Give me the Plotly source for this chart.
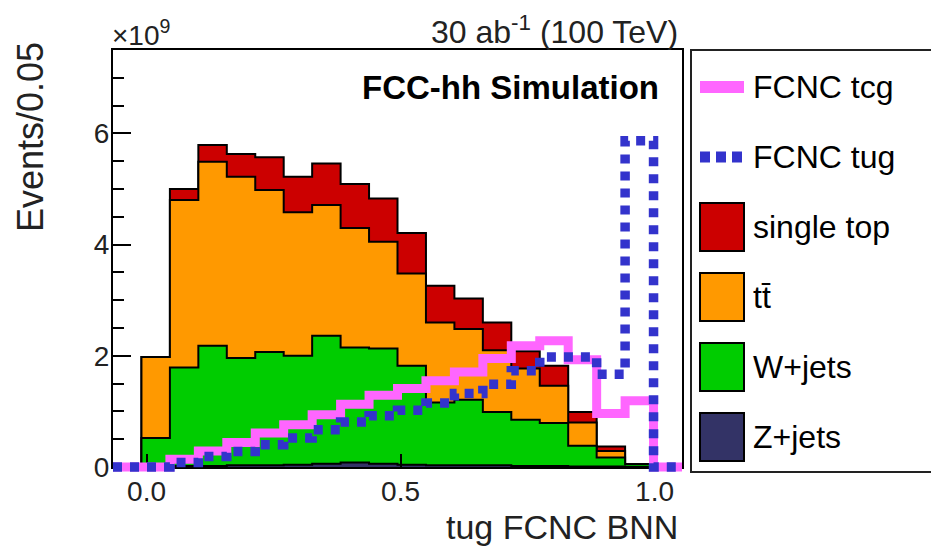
import numpy as np
import plotly.graph_objects as go

# ---------------- data (values in units of 1e9 events per bin) ----------------
bin_lo, bin_hi, n_bins = -0.066, 1.054, 20
z_jets     = [0, 0.00, 0.02, 0.02, 0.03, 0.03, 0.04, 0.06, 0.08, 0.06,
              0.04, 0.03, 0.03, 0.03, 0.02, 0.02, 0.01, 0.01, 0.00, 0]
w_jets     = [0, 0.52, 1.77, 2.16, 1.93, 2.04, 1.96, 2.30, 2.07, 2.07,
              1.78, 1.13, 1.18, 0.96, 0.83, 0.77, 0.37, 0.16, 0.05, 0]
ttbar      = [0, 1.46, 3.01, 3.31, 3.26, 2.91, 2.58, 2.35, 2.15, 1.92,
              1.66, 1.44, 1.27, 1.11, 0.92, 0.67, 0.42, 0.12, 0.00, 0]
single_top = [0, 0.00, 0.20, 0.30, 0.41, 0.59, 0.64, 0.75, 0.79, 0.78,
              0.73, 0.66, 0.55, 0.50, 0.31, 0.36, 0.19, 0.08, 0.00, 0]
fcnc_tcg   = [0, 0.00, 0.14, 0.29, 0.44, 0.61, 0.76, 0.94, 1.13, 1.29,
              1.41, 1.55, 1.71, 1.95, 2.18, 2.27, 1.93, 0.96, 1.19, 0]
fcnc_tug   = [0, 0.00, 0.08, 0.19, 0.28, 0.40, 0.52, 0.67, 0.81, 0.92,
              1.02, 1.15, 1.32, 1.49, 1.73, 1.98, 1.98, 1.67, 5.87, 0]

x_tickvals = [0.0, 0.5, 1.0]
x_ticktext = ["0.0", "0.5", "1.0"]
y_tickvals = [0, 2, 4, 6]
y_ticktext = ["0", "2", "4", "6"]
y_max = 7.5

legend_labels = ["FCNC tcg", "FCNC tug", "single top", "t" + "t\u0304", "W+jets", "Z+jets"]

# ---------------- styling ----------------
C_ST, C_TT, C_W, C_Z = "#CC0000", "#FF9900", "#00CC00", "#333366"
C_TCG, C_TUG = "#FF66FF", "#3333CC"
FONT = "Liberation Sans, Arial, sans-serif"

edges = np.linspace(bin_lo, bin_hi, n_bins + 1)


def step(vals):
    x = [edges[0]] + list(edges[:-1]) + [edges[-1]]
    y = [0] + list(vals) + [0]
    return x, y


z = np.array(z_jets)
cw = z + np.array(w_jets)
ct = cw + np.array(ttbar)
cs = ct + np.array(single_top)

fig = go.Figure()
for vals, col in [(cs, C_ST), (ct, C_TT), (cw, C_W), (z, C_Z)]:
    x, y = step(vals)
    fig.add_trace(go.Scatter(x=x, y=y, mode="lines", line=dict(shape="hv", color="black", width=2),
                             fill="tozeroy", fillcolor=col, showlegend=False, hoverinfo="skip",
                             xaxis="x", yaxis="y"))

# signal curves on a twin subplot whose clip area extends a little below the baseline
x, y = step(fcnc_tcg)
fig.add_trace(go.Scatter(x=x, y=y, mode="lines", line=dict(shape="hv", color=C_TCG, width=9),
                         showlegend=False, hoverinfo="skip", xaxis="x2", yaxis="y2"))
x, y = step(fcnc_tug)
fig.add_trace(go.Scatter(x=x, y=y, mode="lines", line=dict(shape="hv", color=C_TUG, width=9.5, dash="9px,8px"),
                         showlegend=False, hoverinfo="skip", xaxis="x2", yaxis="y2"))

# pixel geometry
L, R, T, B0 = 113, 682, 50, 467      # frame
EXT = 8                               # extra clip room below baseline
B = B0 + EXT                          # plotting-area bottom
W_PX, H_PX = R - L, B - T
dom0 = EXT / H_PX
y2_lo = -EXT * y_max / (B0 - T)


def px(xp):
    return (xp - L) / W_PX


def py(yp):
    return (B - yp) / H_PX


shapes = []
annotations = []
# legend box
shapes.append(dict(type="rect", xref="paper", yref="paper", x0=px(691), x1=px(980), y0=py(472), y1=py(50),
                   line=dict(color="#222222", width=2), fillcolor="white", layer="below"))
entry_y = [87, 157, 227, 297, 367, 437]
sym_x0, sym_x1 = 700, 744
shapes.append(dict(type="line", xref="paper", yref="paper", x0=px(sym_x0), x1=px(sym_x1),
                   y0=py(entry_y[0]), y1=py(entry_y[0]), line=dict(color=C_TCG, width=12)))
shapes.append(dict(type="line", xref="paper", yref="paper", x0=px(sym_x0), x1=px(sym_x1),
                   y0=py(entry_y[1]), y1=py(entry_y[1]), line=dict(color=C_TUG, width=11, dash="10px,6px")))
for yc, col in zip(entry_y[2:], [C_ST, C_TT, C_W, C_Z]):
    shapes.append(dict(type="rect", xref="paper", yref="paper", x0=px(sym_x0), x1=px(sym_x1),
                       y0=py(yc + 24), y1=py(yc - 24), line=dict(color="black", width=2), fillcolor=col))
for yc, lab in zip(entry_y, legend_labels):
    annotations.append(dict(xref="paper", yref="paper", x=px(751), y=py(yc), xanchor="left", yanchor="middle",
                            text=lab, showarrow=False, font=dict(family=FONT, size=32, color="black")))

annotations += [
    dict(xref="paper", yref="paper", x=px(661), y=py(87), xanchor="right", yanchor="middle",
         text="<b>FCC-hh Simulation</b>", showarrow=False, font=dict(family=FONT, size=33, color="black")),
    dict(xref="paper", yref="paper", x=px(110), y=py(33), xanchor="left", yanchor="middle",
         text="\u00d710<sup>9</sup>", showarrow=False, font=dict(family=FONT, size=28, color="#222")),
    dict(xref="paper", yref="paper", x=px(680), y=py(30), xanchor="right", yanchor="middle",
         text="30 ab<sup>-1</sup> (100 TeV)", showarrow=False, font=dict(family=FONT, size=32, color="#222")),
    dict(xref="paper", yref="paper", x=px(680), y=py(527), xanchor="right", yanchor="middle",
         text="tug FCNC BNN", showarrow=False, font=dict(family=FONT, size=34, color="#222")),
    dict(xref="paper", yref="paper", x=px(30), y=py(137), xanchor="center", yanchor="middle", textangle=-90,
         text="Events/0.05", showarrow=False, font=dict(family=FONT, size=36, color="#222")),
]

fig.update_layout(
    width=931, height=546, margin=dict(l=L, r=931 - R, t=T, b=546 - B),
    paper_bgcolor="white", plot_bgcolor="rgba(0,0,0,0)",
    shapes=shapes, annotations=annotations, showlegend=False,
    xaxis=dict(range=[bin_lo, bin_hi], domain=[0, 1], anchor="y", tickvals=x_tickvals, ticktext=x_ticktext,
               ticks="inside", ticklen=13, tickwidth=1.5, tickcolor="black", showline=True, linecolor="black",
               linewidth=2, mirror=True, showgrid=False, zeroline=False, ticklabelstandoff=-2,
               tickfont=dict(family=FONT, size=28, color="#222")),
    yaxis=dict(range=[0, y_max], domain=[dom0, 1], anchor="x", tickvals=y_tickvals, ticktext=y_ticktext,
               ticks="inside", ticklen=18, tickwidth=1.5, tickcolor="black", showline=True, linecolor="black",
               linewidth=2, mirror=True, showgrid=False, zeroline=False, ticklabelstandoff=-4,
               tickfont=dict(family=FONT, size=28, color="#222"),
               minor=dict(dtick=0.5, ticks="inside", ticklen=11, tickwidth=1.5, tickcolor="black")),
    xaxis2=dict(range=[bin_lo, bin_hi], domain=[0, 1], anchor="y2", visible=False, showgrid=False,
                zeroline=False),
    yaxis2=dict(range=[y2_lo, y_max], domain=[0, 1], anchor="x2", visible=False, showgrid=False,
                zeroline=False),
)

fig.write_html("out.html")
